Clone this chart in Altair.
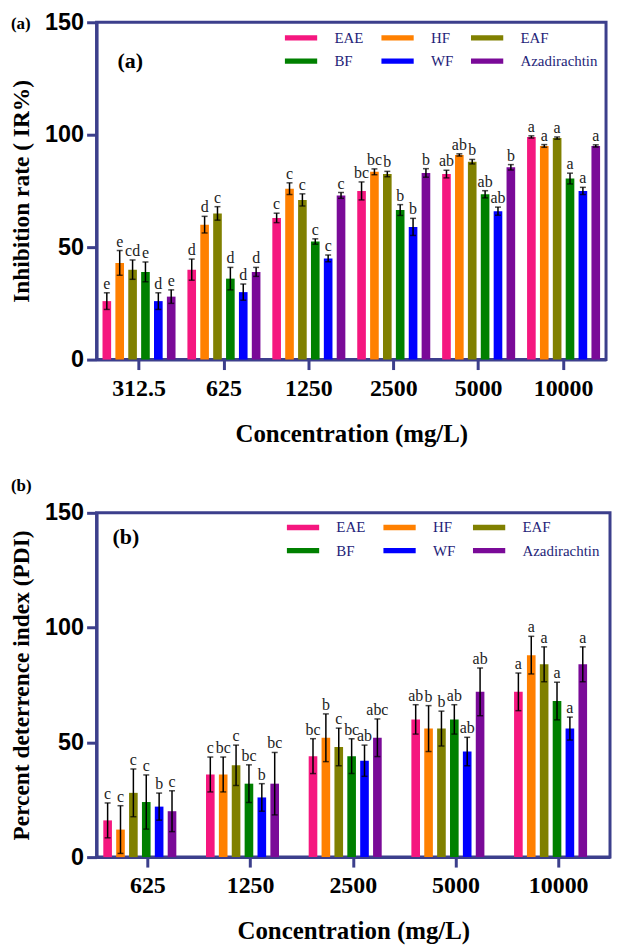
import altair as alt
import pandas as pd

groups = ["EAE", "HF", "EAF", "BF", "WF", "Azadirachtin"]
colors = ["#F5177F", "#FF8000", "#808000", "#008000", "#0000FF", "#7A0A98"]

# ---- Panel (a): inhibition rate ----
conc_a = ["312.5", "625", "1250", "2500", "5000", "10000"]
ir_eae = [26, 40, 63, 75, 82.5, 99]
ir_hf = [43, 60, 76, 83.5, 91, 95]
ir_eaf = [40, 65, 71, 82.5, 88, 98.5]
ir_bf = [39, 36, 52.5, 66.5, 73.5, 80.5]
ir_wf = [26, 30, 45, 59, 66, 75]
ir_aza = [28, 39, 73, 83, 85.5, 95]

ir_err_eae = [3.7, 4.7, 2.1, 4.0, 1.7, 0.5]
ir_err_hf = [5.5, 3.7, 2.6, 1.3, 0.5, 0.6]
ir_err_eaf = [4.3, 3.0, 2.7, 1.2, 1.0, 0.5]
ir_err_bf = [4.4, 5.0, 1.2, 2.4, 1.6, 2.4]
ir_err_wf = [3.7, 3.6, 1.5, 3.8, 1.8, 1.6]
ir_err_aza = [3.0, 2.0, 1.3, 1.9, 1.2, 0.5]

ir_let_eae = ["e", "d", "c", "bc", "ab", "a"]
ir_let_hf = ["e", "d", "c", "bc", "ab", "a"]
ir_let_eaf = ["cd", "c", "c", "b", "b", "a"]
ir_let_bf = ["e", "d", "c", "b", "ab", "a"]
ir_let_wf = ["d", "d", "c", "b", "ab", "a"]
ir_let_aza = ["e", "d", "c", "b", "b", "a"]

# ---- Panel (b): percent deterrence index ----
conc_b = ["625", "1250", "2500", "5000", "10000"]
pdi_eae = [16, 36, 44, 60, 72]
pdi_hf = [12, 36, 52, 56, 88]
pdi_eaf = [28, 40, 48, 56, 84]
pdi_bf = [24, 32, 44, 60, 68]
pdi_wf = [22, 26, 42, 46, 56]
pdi_aza = [20, 32, 52, 72, 84]

pdi_err_eae = [7.6, 7.6, 7.6, 6.4, 8.2]
pdi_err_hf = [10.4, 7.6, 10.4, 10.0, 8.2]
pdi_err_eaf = [10.4, 8.8, 8.2, 7.6, 7.6]
pdi_err_bf = [11.8, 8.2, 7.6, 6.4, 8.2]
pdi_err_wf = [5.9, 6.0, 6.8, 6.2, 5.0]
pdi_err_aza = [8.9, 13.6, 8.2, 10.4, 7.6]

pdi_let_eae = ["c", "c", "bc", "ab", "a"]
pdi_let_hf = ["c", "bc", "b", "b", "a"]
pdi_let_eaf = ["c", "c", "c", "b", "a"]
pdi_let_bf = ["c", "bc", "bc", "ab", "a"]
pdi_let_wf = ["b", "b", "ab", "ab", "a"]
pdi_let_aza = ["c", "bc", "abc", "ab", "a"]


def build(concs, means, errs, lets):
    rows = []
    for g, m, e, l in zip(groups, means, errs, lets):
        for c, mv, ev, lv in zip(concs, m, e, l):
            rows.append({"conc": c, "group": g, "mean": mv,
                         "lo": mv - ev, "hi": mv + ev, "letter": lv})
    return pd.DataFrame(rows)


df_a = build(conc_a,
             [ir_eae, ir_hf, ir_eaf, ir_bf, ir_wf, ir_aza],
             [ir_err_eae, ir_err_hf, ir_err_eaf, ir_err_bf, ir_err_wf, ir_err_aza],
             [ir_let_eae, ir_let_hf, ir_let_eaf, ir_let_bf, ir_let_wf, ir_let_aza])
df_b = build(conc_b,
             [pdi_eae, pdi_hf, pdi_eaf, pdi_bf, pdi_wf, pdi_aza],
             [pdi_err_eae, pdi_err_hf, pdi_err_eaf, pdi_err_bf, pdi_err_wf, pdi_err_aza],
             [pdi_let_eae, pdi_let_hf, pdi_let_eaf, pdi_let_bf, pdi_let_wf, pdi_let_aza])

NAVY = "#3C3F8C"
SERIF = "Liberation Serif"
SANS = "Liberation Sans"


def panel(df, concs, width, height, ytitle, tag, lx, ly, in_x, in_y, out_x, out_y):
    x = alt.X("conc:N", sort=concs, title="Concentration (mg/L)",
              scale=alt.Scale(paddingInner=0.09, paddingOuter=0.045),
              axis=alt.Axis(labelAngle=0, labelFont=SERIF, labelFontWeight="bold",
                            labelFontSize=24, labelColor="black", labelPadding=7,
                            titleFont=SERIF, titleFontWeight="bold", titleFontSize=25,
                            titleColor="black", titlePadding=21,
                            domainColor=NAVY, domainWidth=3, tickColor=NAVY,
                            tickWidth=3, tickSize=10))
    xo = alt.XOffset("group:N", sort=groups,
                     scale=alt.Scale(paddingInner=0.33, paddingOuter=0.165))
    y_scale = alt.Scale(domain=[0, 150])
    y = alt.Y("mean:Q", scale=y_scale, title=ytitle,
              axis=alt.Axis(values=[0, 50, 100, 150], grid=False,
                            labelFont=SANS, labelFontWeight="bold", labelFontSize=23.5,
                            labelColor="black", labelPadding=3,
                            titleFont=SERIF, titleFontWeight="bold", titleFontSize=23.5,
                            titleColor="black", titlePadding=11,
                            domainColor=NAVY, domainWidth=3, tickColor=NAVY,
                            tickWidth=3, tickSize=10))
    color = alt.Color("group:N", scale=alt.Scale(domain=groups, range=colors),
                      legend=alt.Legend(title=None, orient="none", legendX=lx, legendY=ly,
                                        direction="horizontal", columns=3,
                                        symbolType="M-1.45,-0.24L1.45,-0.24L1.45,0.24L-1.45,0.24Z",
                                        symbolSize=500, symbolStrokeWidth=0,
                                        symbolOpacity=1,
                                        labelFont=SERIF, labelFontSize=15,
                                        labelColor="#1E1E78", labelOffset=22,
                                        columnPadding=17, rowPadding=3.5))
    base = alt.Chart(df)
    bars = base.mark_bar(opacity=1).encode(x=x, xOffset=xo, y=y, color=color)
    rules = base.mark_rule(color="black", strokeWidth=1.5).encode(
        x=x, xOffset=xo, y=alt.Y("lo:Q", scale=y_scale), y2="hi:Q")
    cap_hi = base.mark_tick(color="black", size=6, thickness=1.5).encode(
        x=x, xOffset=xo, y=alt.Y("hi:Q", scale=y_scale))
    cap_lo = base.mark_tick(color="black", size=6, thickness=1.5).encode(
        x=x, xOffset=xo, y=alt.Y("lo:Q", scale=y_scale))
    letters = base.mark_text(baseline="bottom", dy=-1, font=SERIF, fontSize=16,
                             color="#222222").encode(
        x=x, xOffset=xo, y=alt.Y("hi:Q", scale=y_scale), text="letter:N")
    tag_df = pd.DataFrame({"t": [tag]})
    inner = alt.Chart(tag_df).mark_text(font=SERIF, fontWeight="bold", fontSize=22,
                                        align="left", baseline="middle",
                                        color="black").encode(
        text="t:N", x=alt.value(in_x), y=alt.value(in_y))
    outer = alt.Chart(tag_df).mark_text(font=SERIF, fontWeight="bold", fontSize=17,
                                        align="left", baseline="middle",
                                        color="black").encode(
        text="t:N", x=alt.value(out_x), y=alt.value(out_y))
    return alt.layer(bars, rules, cap_hi, cap_lo, letters, inner, outer).properties(
        width=width, height=height)


top = panel(df_a, conc_a, 512, 339, "Inhibition rate ( IR%)", "(a)",
            194, 4, 21, 39, -86, 2)
bottom = panel(df_b, conc_b, 516, 346, "Percent deterrence index (PDI)", "(b)",
               196, 3, 16, 24, -86, -27)

chart = alt.concat(top, bottom, columns=1, spacing=27,
                   align={"row": "none", "column": "all"}).resolve_scale(
    color="independent", x="independent", y="independent"
).properties(
    padding={"left": 0, "top": -2, "right": 0, "bottom": 0}
).configure_view(stroke=NAVY, strokeWidth=3)

chart.save("out.html", embed_options={"renderer": "svg", "actions": False})
